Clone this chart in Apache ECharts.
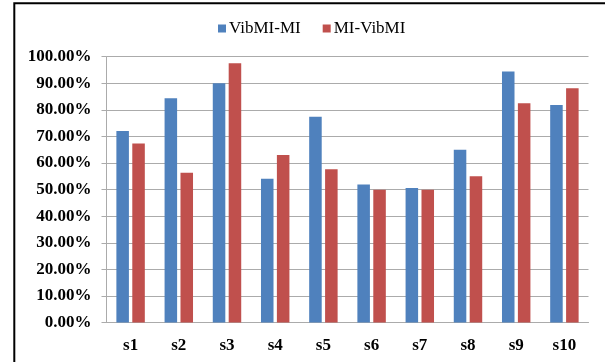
<!DOCTYPE html>
<html>
<head>
<meta charset="utf-8">
<script src="https://cdn.jsdelivr.net/npm/echarts@6/dist/echarts.min.js"></script>
<style>
  html, body { margin: 0; padding: 0; background: #fff; }
  #chart { width: 605px; height: 362px; }
</style>
</head>
<body>
<div id="chart"></div>
<script>
// Subjects on the x axis
const categories = ['s1', 's2', 's3', 's4', 's5', 's6', 's7', 's8', 's9', 's10'];
// Accuracy (%) for each direction
const vibmiToMi = [72.0, 84.4, 90.0, 54.1, 77.4, 51.9, 50.6, 65.0, 94.4, 81.8];
const miToVibmi = [67.3, 56.3, 97.5, 63.0, 57.7, 49.9, 49.9, 55.0, 82.5, 88.1];
const seriesNames = ['VibMI-MI', 'MI-VibMI'];
// Y axis: 0% to 100% in 10% steps
const yMin = 0, yMax = 100, yStep = 10;

const serif = '"Liberation Serif", "Times New Roman", serif';
const chart = echarts.init(document.getElementById('chart'), null, { renderer: 'canvas' });

chart.setOption({
  backgroundColor: '#ffffff',
  animation: false,
  color: ['#4F81BD', '#C0504D'],
  graphic: [
    {
      type: 'polyline',
      silent: true,
      shape: { points: [[14.3, 362], [14.3, 3.3], [605, 3.3]] },
      style: { stroke: '#000', lineWidth: 2, fill: null }
    }
  ],
  legend: {
    top: 15,
    left: 213,
    itemWidth: 8,
    itemHeight: 8,
    itemGap: 22,
    icon: 'rect',
    textStyle: { fontFamily: serif, fontSize: 17, color: '#000', padding: [0, 0, 0, -2] },
    data: seriesNames
  },
  grid: { left: 106.5, right: 16.5, top: 56.7, bottom: 39.5, containLabel: false },
  xAxis: {
    type: 'category',
    data: categories,
    axisLine: { lineStyle: { color: '#ABABAB', width: 1 } },
    axisTick: { show: false },
    axisLabel: { margin: 15, fontFamily: serif, fontWeight: 'bold', fontSize: 17, color: '#000' }
  },
  yAxis: {
    type: 'value',
    min: yMin,
    max: yMax,
    interval: yStep,
    axisLine: { show: true, lineStyle: { color: '#ABABAB', width: 1 } },
    axisTick: { show: true, length: 5, inside: false, lineStyle: { color: '#ABABAB' } },
    splitLine: { lineStyle: { color: '#ABABAB', width: 1 } },
    axisLabel: {
      margin: 15,
      fontFamily: serif,
      fontWeight: 'bold',
      fontSize: 17,
      color: '#000',
      formatter: v => v.toFixed(2) + '%'
    }
  },
  series: [
    {
      name: seriesNames[0],
      type: 'bar',
      data: vibmiToMi,
      barGap: '27%',
      barCategoryGap: '41%'
    },
    {
      name: seriesNames[1],
      type: 'bar',
      data: miToVibmi,
      barGap: '27%',
      barCategoryGap: '41%'
    }
  ]
});
</script>
</body>
</html>
